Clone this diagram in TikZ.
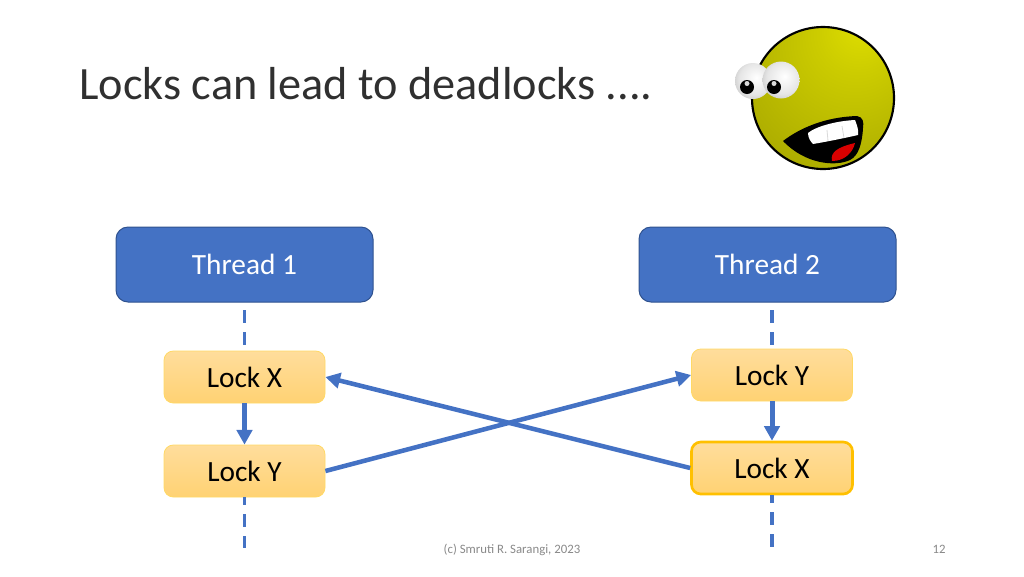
\documentclass[tikz,border=0pt]{standalone}
\usepackage{fontspec}
\setmainfont{Carlito}
\usetikzlibrary{arrows.meta}

\definecolor{threadblue}{HTML}{4472C4}
\definecolor{threadedge}{HTML}{2F528F}
\definecolor{locktop}{HTML}{FFDD9C}
\definecolor{lockbottom}{HTML}{FFD273}
\definecolor{lockedge}{HTML}{FFD966}
\definecolor{lockgold}{HTML}{FFC000}
\definecolor{footgray}{HTML}{898989}
\definecolor{titlegray}{HTML}{303030}

\pgfdeclareradialshading{faceball}{\pgfpoint{15bp}{28bp}}{color(0bp)=(yellow!88!black); color(14bp)=(yellow!80!black); color(40bp)=(yellow!68!black); color(75bp)=(yellow!60!black)}
\pgfdeclareradialshading{eyeball}{\pgfpoint{5bp}{5bp}}{color(0bp)=(white); color(22bp)=(white!90!black); color(52bp)=(white!55!black)}

\tikzset{
  threadbox/.style={draw=threadedge,line width=0.75pt,fill=threadblue,rounded corners=9,text=white,font=\fontsize{22}{26}\selectfont,minimum width=192.75pt,minimum height=56.25pt,inner sep=0pt},
  lockbox/.style={draw=lockedge,line width=0.6pt,top color=locktop,bottom color=lockbottom,rounded corners=7,text=black,font=\fontsize{22}{26}\selectfont,minimum width=120.75pt,minimum height=39pt,inner sep=0pt},
  heldbox/.style={lockbox,draw=lockgold,line width=2pt},
  timeline/.style={draw=threadblue,line width=2.5pt,dash pattern=on 9.75pt off 6.75pt},
  waitarrow/.style={draw=threadblue,line width=3.4pt,-{Triangle[length=11pt,width=11.5pt]}},
  steparrow/.style={draw=threadblue,line width=3.75pt,-{Triangle[length=11pt,width=11.5pt]}},
  footnote/.style={text=footgray,font=\fontsize{9.6}{11}\selectfont,inner sep=0pt}
}

\begin{document}
\begin{tikzpicture}[x=0.75pt,y=0.75pt,yscale=-1]
\useasboundingbox (0,0) rectangle (1024,576);

% Title
\node (title) at (79,84) [anchor=west,inner sep=0pt,text=titlegray,font=\fontsize{34.7}{42}\selectfont] {Locks can lead to deadlocks ....};

% Face
\shade [shading=faceball,draw=black,line width=1.6pt] (823,98) circle (71);
\fill [black] (783,141) .. controls (800,128) and (825,117) .. (857,116) .. controls (863,117) and (864,122) .. (863,128) .. controls (862,145) and (858,156) .. (850,160) .. controls (835,167) and (805,164) .. (783,141) -- cycle;
\fill [white] (808,133) .. controls (815,127) and (835,121) .. (855,120) .. controls (857,125) and (859,131) .. (858,135) .. controls (845,138) and (825,142) .. (813,144) .. controls (810,141) and (808,137) .. (808,133) -- cycle;
\draw [white!85!black,line width=0.6pt] (827,130) -- (828,141);
\draw [white!85!black,line width=0.6pt] (842,126) -- (844,138);
\fill [red!85!black] (832,161) .. controls (830,152) and (838,147) .. (855,143) .. controls (853,152) and (845,161) .. (832,161) -- cycle;
\shade [shading=eyeball] (753,81) circle (18);
\fill [black] (747,87) circle (7);
\fill [white!85!black] (747,83.5) circle (2.5);
\shade [shading=eyeball] (781,80) circle (18.5);
\fill [black] (774,87) circle (7);
\fill [white!85!black] (774,83.5) circle (2.5);

% Thread boxes
\node (thread1) at (244.5,264.5) [threadbox] {Thread 1};
\node (thread2) at (767.5,264.5) [threadbox] {Thread 2};

% Lock boxes
\node (lockx1) at (244.5,377) [lockbox] {Lock X};
\node (locky1) at (244.5,471) [lockbox] {Lock Y};
\node (locky2) at (772,375) [lockbox] {Lock Y};
\node (lockx2) at (772,468) [heldbox] {Lock X};

% Free ends of the dashed lines
\coordinate (top1) at (244.5,310);
\coordinate (end1) at (244.5,548);
\coordinate (top2) at (772,310);
\coordinate (end2) at (772,548);

% Dashed lines
\draw [timeline] (top1) -- (lockx1.north);
\draw [timeline,dash phase=3.75pt] (locky1.south) -- (end1);
\draw [timeline] (top2) -- (locky2.north);
\draw [timeline,dash phase=3.75pt] (lockx2.south) -- (end2);

% Arrows
\draw [steparrow] (lockx1.south) -- (locky1.north);
\draw [steparrow] (locky2.south) -- (lockx2.north);
\draw [waitarrow] (locky1.east) -- (locky2.west);
\draw [waitarrow] (lockx2.west) -- (lockx1.east);

% Footer
\node (credit) at (512,549.5) [footnote] {(c) Smruti R. Sarangi, 2023};
\node (page) at (939,549.5) [footnote] {12};

\end{tikzpicture}
\end{document}
